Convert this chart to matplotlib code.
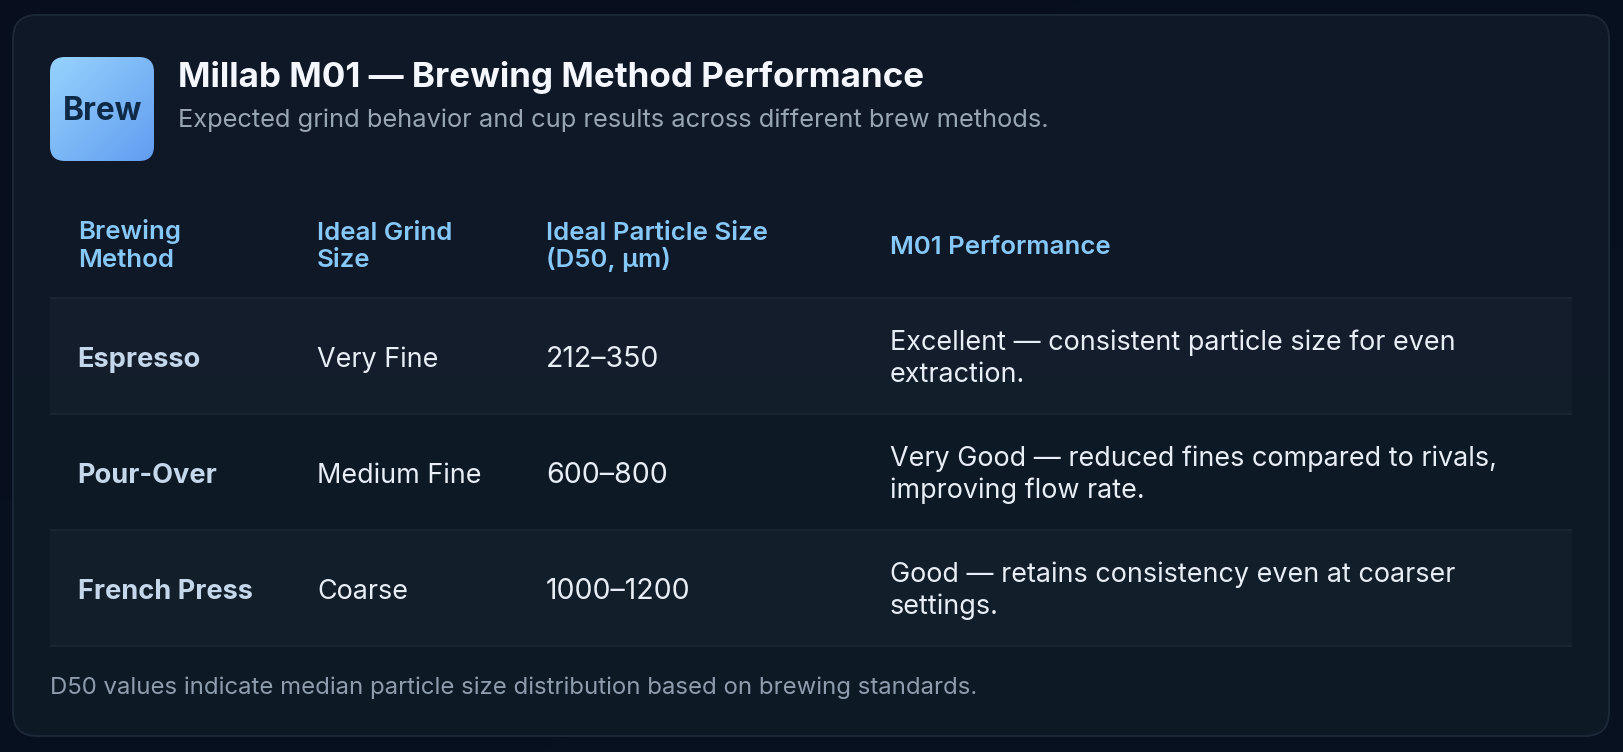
import numpy as np
import matplotlib
matplotlib.use("Agg")
import matplotlib.pyplot as plt
from matplotlib.patches import FancyBboxPatch, Rectangle
from matplotlib.colors import LinearSegmentedColormap

plt.rcParams['font.family'] = ['Inter', 'DejaVu Sans']

title = "Millab M01 — Brewing Method Performance"
subtitle = "Expected grind behavior and cup results across different brew methods."
icon_label = "Brew"
footer = "D50 values indicate median particle size distribution based on brewing standards."
headers = ["Brewing\nMethod", "Ideal Grind\nSize", "Ideal Particle Size\n(D50, µm)", "M01 Performance"]
methods = ["Espresso", "Pour-Over", "French Press"]
grinds = ["Very Fine", "Medium Fine", "Coarse"]
particle_sizes = ["212–350", "600–800", "1000–1200"]
performance = ["Excellent — consistent particle size for even\nextraction.",
               "Very Good — reduced fines compared to rivals,\nimproving flow rate.",
               "Good — retains consistency even at coarser\nsettings."]

W, H = 1624, 752
fig = plt.figure(figsize=(W/100, H/100), dpi=100)
ax = fig.add_axes([0, 0, 1, 1])
ax.set_xlim(0, W); ax.set_ylim(H, 0); ax.axis('off')

def grad(c0, c1, extent, diag=True, clip=None, z=0):
    n = 256
    yy, xx = np.mgrid[0:1:n*1j, 0:1:n*1j]
    t = (xx + yy) / 2 if diag else yy
    cm = LinearSegmentedColormap.from_list('g', [c0, c1])
    im = ax.imshow(t, extent=extent, cmap=cm, vmin=0, vmax=1, aspect='auto', zorder=z, interpolation='bilinear')
    if clip is not None:
        im.set_clip_path(clip)
    return im

grad('#070f20', '#08121f', (0, W, H, 0), z=0)
ax.set_xlim(0, W); ax.set_ylim(H, 0)

cx0, cy0, cx1, cy1 = 13, 15, 1609, 736
r = 24
card = FancyBboxPatch((cx0, cy0), cx1-cx0, cy1-cy0, boxstyle=f"round,pad=0,rounding_size={r}",
                      fc='none', ec='#1c2737', lw=1.4, zorder=3)
ax.add_patch(card)
grad('#101828', '#0e1a26', (cx0, cx1, cy1, cy0), diag=False, clip=card, z=2)

# icon
ix0, iy0, ix1, iy1 = 50, 57, 154, 161
icon = FancyBboxPatch((ix0, iy0), ix1-ix0, iy1-iy0, boxstyle="round,pad=0,rounding_size=15",
                      fc='none', ec='none', zorder=4)
ax.add_patch(icon)
grad('#97d3fd', '#619cf0', (ix0, ix1, iy1, iy0), clip=icon, z=4)
ax.text(102.5, 120, icon_label, color='#0f2a47', fontsize=22.7, fontweight='bold', ha='center', va='baseline', zorder=5)

ax.text(178, 87, title, color='#f4f8fe', fontsize=25.2, fontweight='bold', va='baseline', zorder=5)
ax.text(178, 127.5, subtitle, color='#98a5b4', fontsize=18.3, va='baseline', zorder=5)

# table
tx0, tx1 = 50, 1572
col_x = [77.7, 317, 546, 889.7]
lines_y = [298, 414, 530, 646]
for i in range(3):
    if i % 2 == 0:
        ax.add_patch(Rectangle((tx0, lines_y[i]), tx1-tx0, lines_y[i+1]-lines_y[i], fc='#ffffff', alpha=0.022, ec='none', zorder=3))
for y in lines_y:
    ax.plot([tx0, tx1], [y, y], color='#1b2635', lw=1.4, zorder=4, solid_capstyle='butt')

for x, h in zip(col_x, headers):
    parts = h.split("\n")
    ys = [239.5, 267] if len(parts) == 2 else [253.7]
    for y, p in zip(ys, parts):
        ax.text(x, y, p, color='#86c8f8', fontsize=18.6, fontweight='semibold', va='baseline', zorder=5)

row_base = [366.6, 482.6, 598.6]
for i in range(3):
    b = row_base[i]
    ax.text(col_x[0], b, methods[i], color='#c5d7ea', fontsize=19.6, fontweight='bold', va='baseline', zorder=5)
    ax.text(col_x[1], b, grinds[i], color='#e8eef6', fontsize=19.4, va='baseline', zorder=5)
    ax.text(col_x[2], b, particle_sizes[i], color='#e8eef6', fontsize=20.5, va='baseline', zorder=5)
    for y, p in zip([b-16.5, b+15.5], performance[i].split("\n")):
        ax.text(col_x[3], y, p, color='#e8eef6', fontsize=19.4, va='baseline', zorder=5)

ax.text(50, 694, footer, color='#8e9dad', fontsize=17.25, va='baseline', zorder=5)

fig.savefig('out.png', dpi=100, facecolor='#070f20')
